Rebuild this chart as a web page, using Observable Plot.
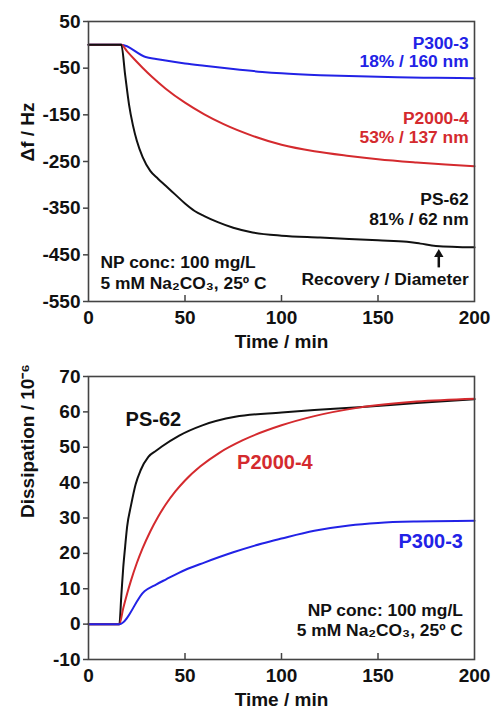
<!DOCTYPE html>
<html><head><meta charset="utf-8">
<script src="https://cdn.jsdelivr.net/npm/d3@7"></script>
<script src="https://cdn.jsdelivr.net/npm/@observablehq/plot@0.6"></script>
<style>body{margin:0;background:#fff;} #c svg{display:block}</style>
</head><body><div id="c"></div>
<script>
// ---- tick labels ----
const xTicks = [0, 50, 100, 150, 200];
const innerXTicks = [50, 100, 150];
const dfTicks = [50, -50, -150, -250, -350, -450, -550];
const dTicks = [70, 60, 50, 40, 30, 20, 10, 0, -10];

// ---- top panel: frequency shift (Hz) vs time (min) ----
const dfP300T = [0, 17, 29.6, 35, 40, 50, 60, 75, 90, 100, 120, 140, 160, 180, 200];
const dfP300V = [0, 0, -26, -30.2, -33.8, -40, -45, -52, -58, -61, -65, -67.5, -69.5, -70.7, -71.5];
const dfP2000T = [0, 17, 20, 24, 28, 33, 40, 50, 60, 70, 85, 100, 117, 135, 150, 170, 185, 200];
const dfP2000V = [0, 0, -14, -32, -49, -69, -94, -124, -149, -170, -195, -214, -228, -238, -245, -252, -256.5, -260];
const dfPS62T = [0, 17, 19, 21, 23, 25, 28, 32, 36, 40, 45, 50, 55, 60, 67, 75, 85, 100, 120, 135, 150, 165, 172, 180, 200];
const dfPS62V = [0, 0, -65, -128, -172, -205, -240, -270, -287, -302, -321, -340, -356, -367, -380, -392, -402, -409, -413, -416, -419, -422, -426, -431, -434];

// ---- bottom panel: dissipation (1e-6) vs time (min) ----
const dPS62T = [0, 16, 17, 18, 19, 20, 22, 24.4, 27, 31, 35, 38, 47, 59, 76, 100, 117, 140, 170, 200];
const dPS62V = [0, 0, 8, 16, 22, 27.5, 33.5, 39.5, 43.5, 47.3, 49, 50.2, 53.3, 56.2, 58.6, 59.8, 60.5, 61.3, 62.5, 63.6];
const dP2000T = [0, 16, 18, 20, 22, 25, 28, 32, 36, 40, 45, 50, 58, 68, 80, 100, 117, 140, 170, 200];
const dP2000V = [0, 0, 4.5, 8.6, 12.3, 17.2, 21.4, 26.2, 30.3, 33.8, 37.5, 40.6, 44.6, 48.5, 52, 56.2, 58.8, 61.2, 62.9, 63.7];
const dP300T = [0, 16, 29, 35, 40, 50, 60, 75, 90, 100, 117, 135, 150, 170, 200];
const dP300V = [0, 0, 9.3, 11.2, 12.6, 15.3, 17.4, 20.3, 22.8, 24.2, 26.4, 27.9, 28.6, 29, 29.2];

const colors = {"P300-3": "#2222e6", "P2000-4": "#d42a2e", "PS-62": "#111111"};
const FONT = "'Liberation Sans', Arial, sans-serif";

function rows(series, tArr, vArr) { return tArr.map((t, i) => ({series, t, v: vArr[i]})); }

function panel({height, marginTop, marginBottom, yDomain, yTicks, yLabel, data, marks}) {
  const innerH = height - marginTop - marginBottom;
  return Plot.plot({
    width: 495, height, marginLeft: 88, marginRight: 21, marginTop, marginBottom,
    style: {fontFamily: FONT, fontWeight: "bold", fontSize: "19px", background: "#fff", color: "#111", overflow: "visible"},
    x: {domain: [0, 200]},
    y: {domain: yDomain},
    marks: [
      Plot.lineY(data, {x: "t", y: "v", z: "series", stroke: d => colors[d.series], strokeWidth: 2, curve: "monotone-x"}),
      Plot.frame({stroke: "#444", strokeWidth: 1.6}),
      Plot.axisY({ticks: yTicks, tickFormat: d => String(d), tickSize: 5, tickPadding: 3, label: null, stroke: "#444", strokeWidth: 1.5, fontSize: 19}),
      Plot.axisX({ticks: xTicks, tickFormat: d => String(d), tickSize: 0, tickPadding: 9, label: null, fontSize: 19}),
      Plot.tickX(innerXTicks, {x: d => d, insetTop: innerH - 6, stroke: "#444", strokeWidth: 1.5}),
      Plot.text(["Time / min"], {frameAnchor: "bottom", dy: 40, fontSize: 19, lineAnchor: "middle"}),
      Plot.text([yLabel], {frameAnchor: "left", rotate: -90, dx: -61, fontSize: 19, lineAnchor: "middle"}),
      ...marks
    ]
  });
}

const topData = [
  ...rows("P300-3", dfP300T, dfP300V),
  ...rows("P2000-4", dfP2000T, dfP2000V),
  ...rows("PS-62", dfPS62T, dfPS62V)
];
const botData = [
  ...rows("PS-62", dPS62T, dPS62V),
  ...rows("P2000-4", dP2000T, dP2000V),
  ...rows("P300-3", dP300T, dP300V)
];

const topPlot = panel({
  height: 355, marginTop: 21, marginBottom: 54,
  yDomain: [-550, 50], yTicks: dfTicks, yLabel: "Δf / Hz", data: topData,
  marks: [
    Plot.text(["P300-3\n18% / 160 nm"], {x: 197, y: -15, textAnchor: "end", lineAnchor: "middle", lineHeight: 1.05, fontSize: 17.4, fill: colors["P300-3"]}),
    Plot.text(["P2000-4\n53% / 137 nm"], {x: 197, y: -176, textAnchor: "end", lineAnchor: "middle", lineHeight: 1.1, fontSize: 17.4, fill: colors["P2000-4"]}),
    Plot.text(["PS-62\n81% / 62 nm"], {x: 197, y: -351, textAnchor: "end", lineAnchor: "middle", lineHeight: 1.15, fontSize: 17.4, fill: "#111"}),
    Plot.text(["Recovery / Diameter"], {x: 197, y: -503, textAnchor: "end", lineAnchor: "middle", fontSize: 17.4, fill: "#111"}),
    Plot.ruleX([181.5], {y1: -478, y2: -452, stroke: "#111", strokeWidth: 2.5}),
    Plot.dot([181.5], {x: d => d, y: -449, symbol: "triangle2", r: 4.5, fill: "#111", stroke: "none"}),
    Plot.text(["NP conc: 100 mg/L\n5 mM Na₂CO₃, 25º C"], {x: 6.2, y: -486, textAnchor: "start", lineAnchor: "middle", lineHeight: 1.25, fontSize: 17.4, fill: "#111"})
  ]
});

const botPlot = panel({
  height: 356, marginTop: 21, marginBottom: 52,
  yDomain: [-10, 70], yTicks: dTicks, yLabel: "Dissipation / 10⁻⁶", data: botData,
  marks: [
    Plot.text(["PS-62"], {x: 19.2, y: 57.9, textAnchor: "start", lineAnchor: "middle", fontSize: 20, fill: "#111"}),
    Plot.text(["P2000-4"], {x: 77, y: 45.6, textAnchor: "start", lineAnchor: "middle", fontSize: 20, fill: colors["P2000-4"]}),
    Plot.text(["P300-3"], {x: 194, y: 23.2, textAnchor: "end", lineAnchor: "middle", fontSize: 20, fill: colors["P300-3"]}),
    Plot.text(["NP conc: 100 mg/L\n5 mM Na₂CO₃, 25º C"], {x: 194, y: 1.3, textAnchor: "end", lineAnchor: "middle", lineHeight: 1.15, fontSize: 17.4, fill: "#111"})
  ]
});

document.getElementById("c").append(topPlot, botPlot);
</script>
</body></html>
